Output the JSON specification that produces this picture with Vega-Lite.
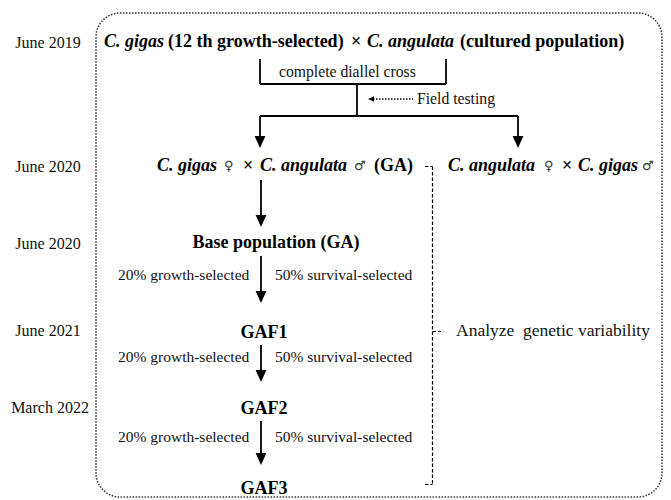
{
  "$schema": "https://vega.github.io/schema/vega-lite/v6.json",
  "width": 671,
  "height": 500,
  "autosize": {"type": "fit", "contains": "padding"},
  "padding": 0,
  "background": "white",
  "config": {"view": {"stroke": null}},
  "datasets": {
    "box": [{"x1": 96, "x2": 662, "y1": 13, "y2": 497}],
    "lines": [
      {"x1": 260, "y1": 59, "x2": 260, "y2": 84, "kind": "solid"},
      {"x1": 446, "y1": 59, "x2": 446, "y2": 84, "kind": "solid"},
      {"x1": 260, "y1": 84, "x2": 446, "y2": 84, "kind": "solid"},
      {"x1": 357, "y1": 84, "x2": 357, "y2": 116, "kind": "solid"},
      {"x1": 260, "y1": 116, "x2": 518, "y2": 116, "kind": "solid"},
      {"x1": 260, "y1": 116, "x2": 260, "y2": 140, "kind": "solid"},
      {"x1": 518, "y1": 116, "x2": 518, "y2": 140, "kind": "solid"},
      {"x1": 261, "y1": 180, "x2": 261, "y2": 219, "kind": "solid"},
      {"x1": 261, "y1": 256, "x2": 261, "y2": 295, "kind": "solid"},
      {"x1": 261, "y1": 345, "x2": 261, "y2": 374, "kind": "solid"},
      {"x1": 261, "y1": 421, "x2": 261, "y2": 457, "kind": "solid"},
      {"x1": 425, "y1": 166.5, "x2": 432.5, "y2": 166.5, "kind": "dashed"},
      {"x1": 432.5, "y1": 166.5, "x2": 432.5, "y2": 484.5, "kind": "dashed"},
      {"x1": 425, "y1": 484.5, "x2": 432.5, "y2": 484.5, "kind": "dashed"},
      {"x1": 432.5, "y1": 331.5, "x2": 441, "y2": 331.5, "kind": "dashed"},
      {"x1": 373, "y1": 99, "x2": 413, "y2": 99, "kind": "dotted"}
    ],
    "heads": [
      {"x": 260, "y": 148, "dir": "down"},
      {"x": 518, "y": 148, "dir": "down"},
      {"x": 261, "y": 227, "dir": "down"},
      {"x": 261, "y": 303, "dir": "down"},
      {"x": 261, "y": 382, "dir": "down"},
      {"x": 261, "y": 465, "dir": "down"},
      {"x": 368, "y": 99, "dir": "left"}
    ],
    "texts": [
      {"x": 48, "y": 43, "text": "June 2019", "role": "date"},
      {"x": 48, "y": 167, "text": "June 2020", "role": "date"},
      {"x": 48, "y": 244, "text": "June 2020", "role": "date"},
      {"x": 48, "y": 331, "text": "June 2021", "role": "date"},
      {"x": 50, "y": 408, "text": "March 2022", "role": "date"},
      {"x": 104, "y": 42, "text": "C. gigas", "role": "species"},
      {"x": 168, "y": 42, "text": "(12 th growth-selected)", "role": "bold"},
      {"x": 351, "y": 42, "text": "×", "role": "bold"},
      {"x": 367, "y": 42, "text": "C. angulata", "role": "species"},
      {"x": 460, "y": 42, "text": "(cultured population)", "role": "bold"},
      {"x": 279, "y": 72, "text": "complete diallel cross", "role": "label"},
      {"x": 417, "y": 99, "text": "Field testing", "role": "label"},
      {"x": 157, "y": 166, "text": "C. gigas", "role": "species"},
      {"x": 224, "y": 166, "text": "♀", "role": "sex"},
      {"x": 243, "y": 166, "text": "×", "role": "bold"},
      {"x": 260, "y": 166, "text": "C. angulata", "role": "species"},
      {"x": 354, "y": 166, "text": "♂", "role": "sex"},
      {"x": 374, "y": 166, "text": "(GA)", "role": "bold"},
      {"x": 448, "y": 166, "text": "C. angulata", "role": "species"},
      {"x": 544, "y": 166, "text": "♀", "role": "sex"},
      {"x": 562, "y": 166, "text": "×", "role": "bold"},
      {"x": 578, "y": 166, "text": "C. gigas", "role": "species"},
      {"x": 642, "y": 166, "text": "♂", "role": "sex"},
      {"x": 276, "y": 243, "text": "Base population (GA)", "role": "node"},
      {"x": 264, "y": 333, "text": "GAF1", "role": "node"},
      {"x": 264, "y": 409, "text": "GAF2", "role": "node"},
      {"x": 264, "y": 489, "text": "GAF3", "role": "node"},
      {"x": 118, "y": 275, "text": "20% growth-selected", "role": "note"},
      {"x": 275, "y": 275, "text": "50% survival-selected", "role": "note"},
      {"x": 118, "y": 357, "text": "20% growth-selected", "role": "note"},
      {"x": 275, "y": 357, "text": "50% survival-selected", "role": "note"},
      {"x": 118, "y": 437, "text": "20% growth-selected", "role": "note"},
      {"x": 275, "y": 437, "text": "50% survival-selected", "role": "note"},
      {"x": 456, "y": 331, "text": "Analyze\u00a0 genetic variability", "role": "analyze"}
    ]
  },
  "layer": [
    {
      "data": {"name": "box"},
      "mark": {"type": "rect", "fillOpacity": 0, "stroke": "#333333", "strokeWidth": 1.5, "strokeDash": [1.5, 1.5], "cornerRadius": 24},
      "encoding": {
        "x": {"field": "x1", "type": "quantitative", "scale": {"domain": [0, 671], "nice": false, "zero": false}, "axis": null},
        "x2": {"field": "x2"},
        "y": {"field": "y1", "type": "quantitative", "scale": {"domain": [0, 500], "nice": false, "zero": false, "reverse": true}, "axis": null},
        "y2": {"field": "y2"}
      }
    },
    {
      "data": {"name": "lines"},
      "transform": [{"filter": "datum.kind === 'solid'"}],
      "mark": {"type": "rule", "color": "#000000", "strokeWidth": 1.8},
      "encoding": {
        "x": {"field": "x1", "type": "quantitative"},
        "x2": {"field": "x2"},
        "y": {"field": "y1", "type": "quantitative"},
        "y2": {"field": "y2"}
      }
    },
    {
      "data": {"name": "lines"},
      "transform": [{"filter": "datum.kind === 'dashed'"}],
      "mark": {"type": "rule", "color": "#000000", "strokeWidth": 1.2, "strokeDash": [3.5, 2]},
      "encoding": {
        "x": {"field": "x1", "type": "quantitative"},
        "x2": {"field": "x2"},
        "y": {"field": "y1", "type": "quantitative"},
        "y2": {"field": "y2"}
      }
    },
    {
      "data": {"name": "lines"},
      "transform": [{"filter": "datum.kind === 'dotted'"}],
      "mark": {"type": "rule", "color": "#000000", "strokeWidth": 1.3, "strokeDash": [1.5, 1.5]},
      "encoding": {
        "x": {"field": "x1", "type": "quantitative"},
        "x2": {"field": "x2"},
        "y": {"field": "y1", "type": "quantitative"},
        "y2": {"field": "y2"}
      }
    },
    {
      "data": {"name": "heads"},
      "transform": [{"filter": "datum.dir === 'down'"}],
      "mark": {"type": "point", "shape": "M-0.45,-1L0.45,-1L0,0Z", "size": 576, "filled": true, "color": "#000000", "opacity": 1, "strokeWidth": 0},
      "encoding": {
        "x": {"field": "x", "type": "quantitative"},
        "y": {"field": "y", "type": "quantitative"}
      }
    },
    {
      "data": {"name": "heads"},
      "transform": [{"filter": "datum.dir === 'left'"}],
      "mark": {"type": "point", "shape": "M0,0L1,-0.45L1,0.45Z", "size": 144, "filled": true, "color": "#000000", "opacity": 1, "strokeWidth": 0},
      "encoding": {
        "x": {"field": "x", "type": "quantitative"},
        "y": {"field": "y", "type": "quantitative"}
      }
    },
    {
      "data": {"name": "texts"},
      "transform": [{"filter": "datum.role === 'date'"}],
      "mark": {"type": "text", "font": "Liberation Serif", "fontSize": 16, "align": "center", "baseline": "middle", "color": "#111111"},
      "encoding": {"x": {"field": "x", "type": "quantitative"}, "y": {"field": "y", "type": "quantitative"}, "text": {"field": "text"}}
    },
    {
      "data": {"name": "texts"},
      "transform": [{"filter": "datum.role === 'species'"}],
      "mark": {"type": "text", "font": "Liberation Serif", "fontSize": 18, "fontWeight": "bold", "fontStyle": "italic", "align": "left", "baseline": "middle", "color": "#000000"},
      "encoding": {"x": {"field": "x", "type": "quantitative"}, "y": {"field": "y", "type": "quantitative"}, "text": {"field": "text"}}
    },
    {
      "data": {"name": "texts"},
      "transform": [{"filter": "datum.role === 'bold'"}],
      "mark": {"type": "text", "font": "Liberation Serif", "fontSize": 18, "fontWeight": "bold", "align": "left", "baseline": "middle", "color": "#000000"},
      "encoding": {"x": {"field": "x", "type": "quantitative"}, "y": {"field": "y", "type": "quantitative"}, "text": {"field": "text"}}
    },
    {
      "data": {"name": "texts"},
      "transform": [{"filter": "datum.role === 'sex'"}],
      "mark": {"type": "text", "font": "DejaVu Sans", "fontSize": 13, "align": "left", "baseline": "middle", "color": "#333333"},
      "encoding": {"x": {"field": "x", "type": "quantitative"}, "y": {"field": "y", "type": "quantitative"}, "text": {"field": "text"}}
    },
    {
      "data": {"name": "texts"},
      "transform": [{"filter": "datum.role === 'node'"}],
      "mark": {"type": "text", "font": "Liberation Serif", "fontSize": 18, "fontWeight": "bold", "align": "center", "baseline": "middle", "color": "#000000"},
      "encoding": {"x": {"field": "x", "type": "quantitative"}, "y": {"field": "y", "type": "quantitative"}, "text": {"field": "text"}}
    },
    {
      "data": {"name": "texts"},
      "transform": [{"filter": "datum.role === 'note'"}],
      "mark": {"type": "text", "font": "Liberation Serif", "fontSize": 15.5, "align": "left", "baseline": "middle", "color": "#111111"},
      "encoding": {"x": {"field": "x", "type": "quantitative"}, "y": {"field": "y", "type": "quantitative"}, "text": {"field": "text"}}
    },
    {
      "data": {"name": "texts"},
      "transform": [{"filter": "datum.role === 'label'"}],
      "mark": {"type": "text", "font": "Liberation Serif", "fontSize": 15.7, "align": "left", "baseline": "middle", "color": "#111111"},
      "encoding": {"x": {"field": "x", "type": "quantitative"}, "y": {"field": "y", "type": "quantitative"}, "text": {"field": "text"}}
    },
    {
      "data": {"name": "texts"},
      "transform": [{"filter": "datum.role === 'analyze'"}],
      "mark": {"type": "text", "font": "Liberation Serif", "fontSize": 17.5, "align": "left", "baseline": "middle", "color": "#111111"},
      "encoding": {"x": {"field": "x", "type": "quantitative"}, "y": {"field": "y", "type": "quantitative"}, "text": {"field": "text"}}
    }
  ]
}
